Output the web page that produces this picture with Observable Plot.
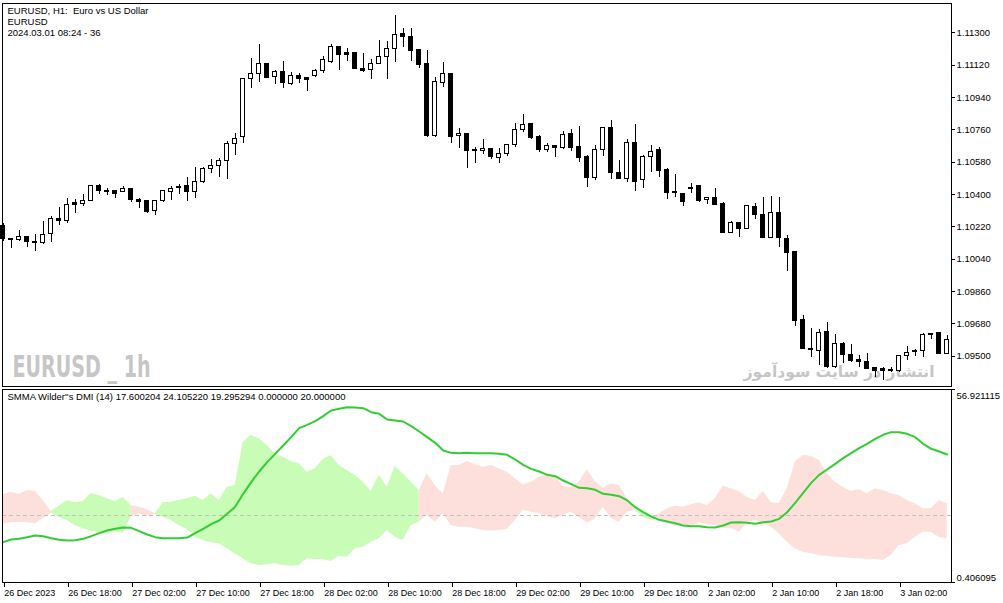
<!DOCTYPE html>
<html>
<head>
<meta charset="utf-8">
<script src="https://cdn.jsdelivr.net/npm/d3@7"></script>
<script src="https://cdn.jsdelivr.net/npm/@observablehq/plot@0.6"></script>
<style>
  html, body { margin: 0; padding: 0; background: #ffffff; }
  #chart { width: 1003px; height: 603px; overflow: hidden; }
  #chart svg { display: block; }
</style>
</head>
<body>
<div id="chart"></div>
<script>
// ---- Price data (EURUSD H1), one entry per bar ----
const opens = [1.10227,1.10150,1.10148,1.10165,1.10138,1.10129,1.10181,1.10266,1.10251,1.10352,1.10348,1.10363,1.10445,1.10417,1.10417,1.10415,1.10428,1.10371,1.10361,1.10307,1.10363,1.10415,1.10443,1.10445,1.10413,1.10468,1.10541,1.10558,1.10585,1.10682,1.10719,1.11042,1.11068,1.11128,1.11053,1.11081,1.11016,1.11057,1.11050,1.11057,1.11086,1.11136,1.11220,1.11186,1.11186,1.11100,1.11094,1.11128,1.11164,1.11211,1.11291,1.11279,1.11202,1.11124,1.10728,1.11022,1.11068,1.10723,1.10738,1.10645,1.10641,1.10654,1.10604,1.10627,1.10677,1.10760,1.10791,1.10719,1.10650,1.10667,1.10660,1.10738,1.10663,1.10608,1.10493,1.10650,1.10769,1.10521,1.10487,1.10688,1.10478,1.10608,1.10650,1.10534,1.10413,1.10404,1.10432,1.10445,1.10367,1.10382,1.10348,1.10185,1.10242,1.10209,1.10329,1.10287,1.10157,1.10298,1.10154,1.10079,1.09699,1.09541,1.09528,1.09634,1.09439,1.09569,1.09509,1.09476,1.09470,1.09433,1.09430,1.09420,1.09420,1.09498,1.09528,1.09528,1.09615,1.09628,1.09513];
const highs = [1.10239,1.10155,1.10200,1.10168,1.10176,1.10250,1.10276,1.10328,1.10378,1.10372,1.10400,1.10450,1.10456,1.10433,1.10422,1.10443,1.10430,1.10376,1.10365,1.10367,1.10419,1.10445,1.10457,1.10493,1.10552,1.10552,1.10595,1.10600,1.10695,1.10740,1.11046,1.11155,1.11233,1.11130,1.11090,1.11140,1.11081,1.11075,1.11053,1.11094,1.11168,1.11235,1.11222,1.11211,1.11188,1.11183,1.11150,1.11257,1.11253,1.11396,1.11322,1.11322,1.11204,1.11202,1.11050,1.11136,1.11070,1.10769,1.10740,1.10663,1.10706,1.10656,1.10654,1.10679,1.10797,1.10845,1.10794,1.10728,1.10686,1.10673,1.10751,1.10762,1.10778,1.10617,1.10673,1.10775,1.10812,1.10589,1.10706,1.10790,1.10617,1.10673,1.10662,1.10543,1.10511,1.10406,1.10460,1.10450,1.10385,1.10432,1.10357,1.10250,1.10246,1.10339,1.10352,1.10385,1.10389,1.10385,1.10172,1.10081,1.09726,1.09652,1.09647,1.09689,1.09621,1.09578,1.09565,1.09504,1.09517,1.09435,1.09439,1.09439,1.09504,1.09554,1.09536,1.09628,1.09628,1.09630,1.09615];
const lows = [1.10138,1.10099,1.10140,1.10107,1.10084,1.10122,1.10135,1.10229,1.10240,1.10296,1.10335,1.10359,1.10400,1.10396,1.10379,1.10410,1.10355,1.10320,1.10296,1.10285,1.10357,1.10367,1.10398,1.10361,1.10379,1.10463,1.10515,1.10496,1.10482,1.10619,1.10686,1.10988,1.11025,1.11044,1.11012,1.10988,1.11007,1.11016,1.10975,1.11050,1.11075,1.11129,1.11090,1.11140,1.11094,1.11081,1.11040,1.11126,1.11040,1.11136,1.11220,1.11140,1.11103,1.10719,1.10719,1.10997,1.10686,1.10658,1.10546,1.10574,1.10623,1.10593,1.10574,1.10611,1.10663,1.10747,1.10705,1.10635,1.10635,1.10604,1.10649,1.10641,1.10580,1.10441,1.10478,1.10613,1.10484,1.10484,1.10468,1.10418,1.10432,1.10524,1.10493,1.10372,1.10382,1.10333,1.10407,1.10357,1.10343,1.10339,1.10181,1.10181,1.10162,1.10207,1.10261,1.10154,1.10154,1.10107,1.09973,1.09667,1.09539,1.09494,1.09448,1.09430,1.09430,1.09458,1.09467,1.09439,1.09424,1.09383,1.09365,1.09411,1.09411,1.09476,1.09498,1.09494,1.09591,1.09511,1.09511];
const closes = [1.10150,1.10144,1.10165,1.10135,1.10131,1.10176,1.10266,1.10251,1.10344,1.10343,1.10365,1.10445,1.10422,1.10413,1.10404,1.10428,1.10367,1.10357,1.10305,1.10365,1.10417,1.10432,1.10437,1.10413,1.10468,1.10543,1.10561,1.10589,1.10682,1.10706,1.11044,1.11072,1.11124,1.11050,1.11081,1.11020,1.11062,1.11042,1.11035,1.11090,1.11146,1.11220,1.11178,1.11178,1.11096,1.11090,1.11128,1.11164,1.11211,1.11289,1.11276,1.11198,1.11122,1.10728,1.11025,1.11068,1.10719,1.10738,1.10641,1.10641,1.10654,1.10608,1.10627,1.10677,1.10760,1.10788,1.10716,1.10649,1.10667,1.10660,1.10732,1.10660,1.10604,1.10493,1.10650,1.10769,1.10519,1.10487,1.10688,1.10468,1.10611,1.10635,1.10530,1.10407,1.10407,1.10357,1.10437,1.10363,1.10382,1.10344,1.10185,1.10242,1.10209,1.10333,1.10287,1.10157,1.10296,1.10157,1.10073,1.09695,1.09541,1.09532,1.09630,1.09439,1.09569,1.09509,1.09472,1.09469,1.09428,1.09420,1.09420,1.09424,1.09498,1.09519,1.09521,1.09615,1.09625,1.09513,1.09591];

// ---- SMMA Wilder's DMI (14) ----
const plusDI = [17.58,17.88,18.07,17.88,17.58,19.05,20.61,22.76,24.32,23.73,24.12,26.37,25.88,24.91,24.12,25.29,22.95,20.51,19.83,20.22,23.73,23.93,24.42,24.91,25.69,24.42,26.37,24.42,28.32,28.81,41.50,43.45,42.47,40.52,38.08,37.11,35.84,35.15,32.71,33.69,36.42,37.59,34.67,33.20,31.74,29.79,27.05,31.74,28.32,34.37,32.23,29.79,27.34,20.02,18.07,20.51,17.10,16.61,16.61,16.12,15.63,15.44,15.63,15.92,18.56,21.49,21.00,20.51,19.73,19.05,20.02,21.00,19.54,17.78,19.05,22.47,19.24,18.07,21.00,21.49,20.71,19.54,19.05,17.58,16.90,17.29,16.61,17.88,17.29,17.10,16.12,16.31,15.14,17.88,18.56,17.58,16.61,14.66,12.22,10.27,9.29,8.80,8.31,8.12,7.82,7.63,7.53,7.33,7.24,7.14,6.85,8.31,11.24,11.73,13.68,15.14,15.14,13.68,13.19];
const minusDI = [26.08,26.86,26.17,27.34,27.15,24.42,21.20,19.54,18.56,17.10,16.12,15.44,15.14,14.66,15.34,14.85,19.54,22.47,21.78,20.51,19.54,18.56,17.10,15.92,13.68,12.70,12.02,11.73,10.27,8.80,7.33,5.87,5.38,5.58,5.87,5.38,5.19,5.38,7.33,7.14,7.04,6.55,8.12,7.82,10.27,10.75,12.22,13.19,15.63,13.68,12.70,17.10,18.07,32.23,28.81,26.37,34.67,34.67,35.84,34.86,34.18,34.67,33.69,32.71,30.76,29.00,29.79,31.25,31.93,31.74,28.62,28.22,29.79,33.49,29.98,28.03,29.30,28.81,24.91,21.98,19.54,18.56,20.51,21.98,22.76,22.47,23.15,23.73,22.95,24.91,28.62,27.83,27.05,25.39,24.42,27.05,23.93,23.44,27.83,35.64,37.59,37.40,36.13,32.23,29.79,28.32,27.05,27.64,26.37,27.83,27.34,26.37,25.88,24.42,23.44,21.98,21.98,24.42,23.44];
const adx = [12.22,13.00,13.19,13.68,14.17,13.97,13.39,12.90,12.70,12.80,13.19,13.97,14.85,15.63,16.12,16.51,16.41,15.44,14.46,13.68,13.39,13.39,13.39,13.58,14.85,16.12,17.49,18.56,20.51,22.56,26.37,29.79,32.91,35.64,38.08,40.52,42.96,45.60,46.57,47.65,49.11,50.77,51.26,51.75,51.65,51.45,50.28,49.80,48.14,47.84,47.55,46.18,44.62,42.96,41.30,39.06,38.37,38.28,38.37,38.28,38.28,38.28,38.08,37.79,36.42,34.86,33.69,32.91,31.93,31.54,30.27,29.20,28.12,28.03,27.54,26.37,26.08,25.69,24.42,22.47,21.00,19.73,18.76,18.27,17.78,17.10,16.90,16.90,16.61,16.51,17.10,17.97,18.07,17.88,17.59,18.07,18.27,19.05,21.00,23.73,26.66,29.59,31.93,33.49,35.15,36.81,38.28,39.74,41.01,42.47,43.65,44.43,44.43,43.94,42.96,41.01,39.55,38.77,37.89];

// ---- Axis labels / ticks ----
const priceTicks = [1.09500,1.09680,1.09860,1.10040,1.10220,1.10400,1.10580,1.10760,1.10940,1.11120,1.11300];
const timeLabels = ["26 Dec 2023","26 Dec 18:00","27 Dec 02:00","27 Dec 10:00","27 Dec 18:00","28 Dec 02:00","28 Dec 10:00","28 Dec 18:00","29 Dec 02:00","29 Dec 10:00","29 Dec 18:00","2 Jan 02:00","2 Jan 10:00","2 Jan 18:00","3 Jan 02:00"];
const dmiRange = [0.406095, 56.921115];
const headerLines = ["EURUSD, H1:  Euro vs US Dollar", "EURUSD", "2024.03.01 08:24 - 36"];
const dmiHeader = "SMMA Wilder''s DMI (14) 17.600204 24.105220 19.295294 0.000000 20.000000";
const symbolMark = "EURUSD _ 1h";
const siteMark = "انتشار در سایت سودآموز";

// ---- Build tables ----
const n = opens.length;
const bars = opens.map((o, i) => ({i, o, h: highs[i], l: lows[i], c: closes[i]}));
const dmi = adx.map((a, i) => ({i, adx: a}));
const GREEN_FILL = "#c9fcb7", PINK_FILL = "#fde0dc";
const segs = [];
let run = -1, prevUp = null;
for (let i = 0; i < n; i++) {
  const up = plusDI[i] >= minusDI[i];
  const color = up ? GREEN_FILL : PINK_FILL;
  if (up !== prevUp) {
    run++;
    if (i > 0) segs.push({i: i - 1, lo: Math.min(plusDI[i-1], minusDI[i-1]), hi: Math.max(plusDI[i-1], minusDI[i-1]), run, color});
  }
  segs.push({i, lo: Math.min(plusDI[i], minusDI[i]), hi: Math.max(plusDI[i], minusDI[i]), run, color});
  prevUp = up;
}

const FONT = "'Liberation Sans', Arial, sans-serif";
const xDomain = [-0.0875, 118.5375];

const main = Plot.plot({
  width: 1003, height: 388,
  marginLeft: 2, marginRight: 52, marginTop: 3, marginBottom: 2,
  x: {domain: xDomain, axis: null},
  y: {domain: [1.09331, 1.11463], axis: null},
  color: {type: "identity"},
  style: {fontFamily: FONT, fontSize: "9.5px", background: "#ffffff", color: "#000", overflow: "visible"},
  marks: [
    Plot.text([symbolMark], {frameAnchor: "bottom-left", textAnchor: "start", lineAnchor: "bottom", dx: 10, dy: -10, fontSize: 31, fontWeight: "bold", fill: "#c6c6c6", fontFamily: "'Liberation Sans Narrow', 'DejaVu Sans Condensed', sans-serif"}),
    Plot.text([siteMark], {frameAnchor: "bottom-right", textAnchor: "end", lineAnchor: "bottom", dx: -17, dy: -10, fontSize: 15.5, fontWeight: "bold", fill: "#c6c6c6", fontFamily: "'DejaVu Sans', sans-serif"}),
    Plot.ruleX(bars, {x: "i", y1: "l", y2: "h", stroke: "#000", strokeWidth: 1, shapeRendering: "crispEdges"}),
    Plot.rect(bars, {x1: d => d.i - 0.25, x2: d => d.i + 0.25, y1: "o", y2: "c", fill: d => d.c >= d.o ? "#ffffff" : "#000000", stroke: "#000", strokeWidth: 1, shapeRendering: "crispEdges"}),
    Plot.frame({stroke: "#000", shapeRendering: "crispEdges"}),
    Plot.axisY({anchor: "right", ticks: priceTicks, tickFormat: d => d.toFixed(5), tickSize: 3, tickPadding: 2, label: null, fontSize: 9.5, shapeRendering: "crispEdges"}),
    Plot.text([headerLines.join("\n")], {frameAnchor: "top-left", textAnchor: "start", lineAnchor: "top", dx: 5, dy: 2, lineHeight: 1.2, fill: "#000", fontSize: 9.5})
  ]
});

const ind = Plot.plot({
  width: 1003, height: 215,
  marginLeft: 2, marginRight: 52, marginTop: 1, marginBottom: 21,
  x: {domain: xDomain, axis: null},
  y: {domain: dmiRange, axis: null},
  color: {type: "identity"},
  style: {fontFamily: FONT, fontSize: "9.5px", background: "#ffffff", color: "#000", overflow: "visible"},
  marks: [
    Plot.areaY(segs, {x: "i", y1: "lo", y2: "hi", z: "run", fill: "color", curve: "linear"}),
    Plot.ruleY([20], {stroke: "#c0c0c0", strokeDasharray: "4,3", shapeRendering: "crispEdges"}),
    Plot.line(dmi, {x: "i", y: "adx", stroke: "#32cd32", strokeWidth: 2}),
    Plot.frame({stroke: "#000", shapeRendering: "crispEdges"}),
    Plot.axisX({anchor: "bottom", ticks: d3.range(0, 113, 8), tickFormat: i => timeLabels[i / 8], tickSize: 5, tickPadding: 2, textAnchor: "start", dx: 1, fontSize: 9, label: null, shapeRendering: "crispEdges"}),
    Plot.axisY({anchor: "right", ticks: dmiRange, tickFormat: () => "", tickSize: 3, label: null, shapeRendering: "crispEdges"}),
    Plot.text([dmiRange[1]], {y: d => d, frameAnchor: "right", textAnchor: "start", dx: 5, dy: 6, text: d => d.toFixed(6), fill: "#000", fontSize: 9.5}),
    Plot.text([dmiRange[0]], {y: d => d, frameAnchor: "right", textAnchor: "start", dx: 5, dy: -5, text: d => d.toFixed(6), fill: "#000", fontSize: 9.5}),
    Plot.text([dmiHeader], {frameAnchor: "top-left", textAnchor: "start", lineAnchor: "top", dx: 5, dy: 4, fill: "#000", fontSize: 9.5})
  ]
});

const root = document.getElementById("chart");
root.appendChild(main);
root.appendChild(ind);

// fit the symbol watermark to the width it occupies in the reference
d3.select(main).selectAll("text").each(function() {
  if (this.textContent === symbolMark) d3.select(this).attr("textLength", 138).attr("lengthAdjust", "spacingAndGlyphs");
});
</script>
</body>
</html>
